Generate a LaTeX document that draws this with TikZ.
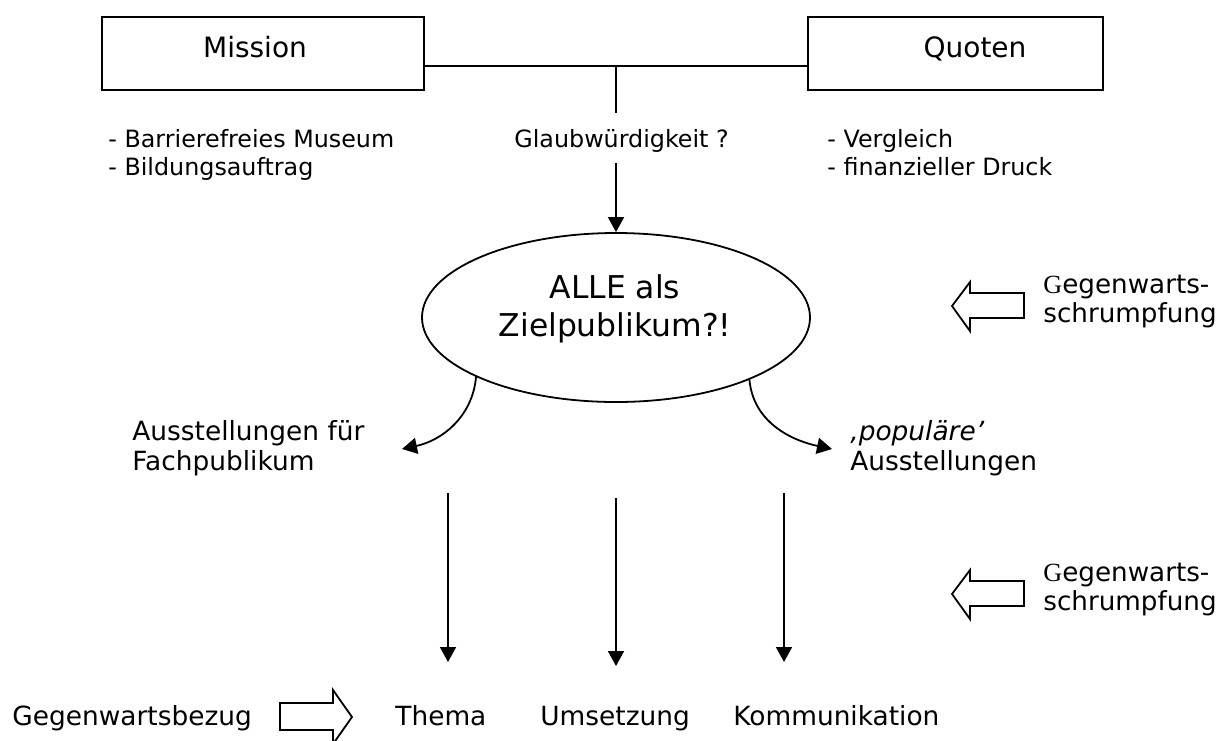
\documentclass[tikz,border=0pt]{standalone}
\usepackage{fontspec}
\setmainfont{DejaVu Sans}
\newfontfamily\gser{Liberation Serif}
\usetikzlibrary{arrows.meta,shapes.geometric}
\tikzset{
  ln/.style={line width=0.9pt},
  arr/.style={line width=0.9pt,-{Triangle[length=7.5pt,width=8pt]}},
  framebox/.style={draw,line width=1pt,inner sep=0pt},
  blk/.style={draw,line width=0.9pt,fill=white,line join=miter},
  smalltxt/.style={font=\fontsize{11.9pt}{14pt}\selectfont,inner sep=0pt,anchor=base west},
  midtxt/.style={font=\fontsize{13.2pt}{15pt}\selectfont,inner sep=0pt,anchor=base west},
  gegtxt/.style={font=\fontsize{13.1pt}{14.5pt}\selectfont,inner sep=0pt,anchor=base west},
  titletxt/.style={font=\fontsize{14pt}{17pt}\selectfont,inner sep=0pt,anchor=base},
  bigtxt/.style={font=\fontsize{15.7pt}{19pt}\selectfont,inner sep=0pt,anchor=base},
}
\begin{document}
\begin{tikzpicture}[x=0.5pt,y=-0.5pt]
\useasboundingbox (0,0) rectangle (1221,740);
% top boxes
\node[framebox,minimum width=161pt,minimum height=36.5pt] (mission) at (263,53.5) {};
\node[framebox,minimum width=147.5pt,minimum height=36.5pt] (quoten) at (955.5,53.5) {};
\node[titletxt] (missiontxt) at (255,57.7) {Mission};
\node[titletxt] (quotentxt) at (975,57.7) {Quoten};
% connector
\coordinate (j) at (616,66);
\coordinate (gtop) at (616,113);
\coordinate (gbot) at (616,163);
\draw[ln] (mission.east |- j) -- (quoten.west |- j);
\draw[ln] (j) -- (gtop);
% lists
\node[smalltxt] (mlist) at (108,147.3) {\vtop{\hbox{- Barrierefreies Museum}\hbox{- Bildungsauftrag}}};
\node[smalltxt] (glaub) at (514,147.3) {Glaubwürdigkeit ?};
\node[smalltxt] (qlist) at (827,147.3) {\vtop{\hbox{- Vergleich}\hbox{- finanzieller Druck}}};
% ellipse
\node[draw,ellipse,line width=0.9pt,minimum width=194pt,minimum height=84.5pt,inner sep=0pt] (ell) at (616,317.5) {};
\node[bigtxt] (alle) at (615,298) {\vtop{\hbox to 0pt{\hss ALLE als\hss}\hbox to 0pt{\hss Zielpublikum?!\hss}}};
\draw[arr] (gbot) -- (ell.north);
% curved arrows
\coordinate (tl) at (402,449);
\coordinate (tr) at (832,449);
\draw[arr] (ell.203.6) to[out=-95,in=12] (tl);
\draw[arr] (ell.335.9) to[out=-85,in=168] (tr);
\node[midtxt] (fach) at (132,440) {\vtop{\hbox{Ausstellungen für}\hbox{Fachpublikum}}};
\node[midtxt] (pop) at (850,440) {\vtop{\hbox{\itshape ‚populäre’}\hbox{Ausstellungen}}};
% vertical arrows
\coordinate (a1s) at (448,493); \coordinate (a1e) at (448,662);
\coordinate (a2s) at (616,498); \coordinate (a2e) at (616,666);
\coordinate (a3s) at (784,493); \coordinate (a3e) at (784,662);
\draw[arr] (a1s) -- (a1e);
\draw[arr] (a2s) -- (a2e);
\draw[arr] (a3s) -- (a3e);
% bottom labels
\node[midtxt] (bezug) at (12,725) {Gegenwartsbezug};
\node[midtxt] (thema) at (395,725) {Thema};
\node[midtxt] (ums) at (540,725) {Umsetzung};
\node[midtxt] (komm) at (733,725) {Kommunikation};
% block arrows
\draw[blk,shift={(952,306)}] (0,0) -- (18,-24) -- (18,-13) -- (72,-13) -- (72,12) -- (18,12) -- (18,25) -- cycle;
\draw[blk,shift={(952,594)}] (0,0) -- (18,-24) -- (18,-13) -- (72,-13) -- (72,12) -- (18,12) -- (18,25) -- cycle;
\draw[blk,shift={(352,717)}] (0,0) -- (-19,-27) -- (-19,-14) -- (-72,-14) -- (-72,13) -- (-19,13) -- (-19,27) -- cycle;
\node[gegtxt] (geg1) at (1043,293) {\vtop{\hbox{{\gser G}egenwarts-}\hbox{schrumpfung}}};
\node[gegtxt] (geg2) at (1043,581) {\vtop{\hbox{{\gser G}egenwarts-}\hbox{schrumpfung}}};
\end{tikzpicture}
\end{document}
